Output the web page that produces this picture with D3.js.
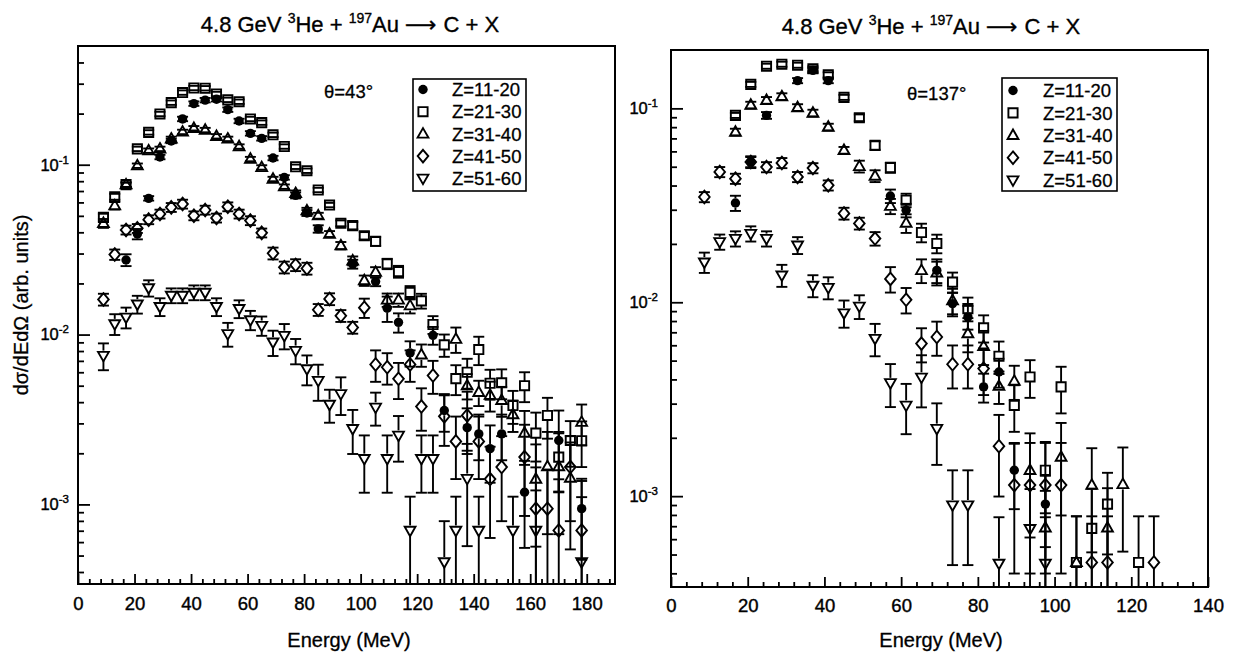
<!DOCTYPE html>
<html>
<head>
<meta charset="utf-8">
<script src="https://cdn.jsdelivr.net/npm/d3@7"></script>
<style>
  html, body { margin: 0; padding: 0; background: #fff; }
  svg text { font-family: "Liberation Sans", Arial, Helvetica, sans-serif; fill: #000; }
</style>
</head>
<body>
<svg id="chart" width="1234" height="653"></svg>
<script>
// ---------- data: 4.8 GeV 3He + 197Au -> C + X, dσ/dEdΩ (arb. units) ----------
const SERIES_LABELS = ["Z=11-20", "Z=21-30", "Z=31-40", "Z=41-50", "Z=51-60"];
const SERIES_SHAPES = ["circle", "square", "triangle", "diamond", "triangleDown"];

// θ = 43° : energies (MeV)
const LEFT_ENERGY = [9, 13, 17, 21, 25, 29, 33, 37, 41, 45, 49, 53, 57, 61, 65, 69, 73, 77, 81, 85, 89, 93,
  97.2, 101.3, 105.3, 109.4, 113.4, 117.5, 121.5, 125.6, 129.6, 133.7, 137.7, 141.8, 145.8, 149.9, 153.9,
  158, 162, 166.1, 170.1, 174.2, 178.2];

const LEFT_Z11_20 = [null, null, 0.0275, 0.0391, 0.0634, 0.111, 0.138, 0.186, 0.229, 0.240, 0.243, 0.211, 0.181,
  0.153, 0.143, 0.1095, 0.0842, 0.066, 0.052, 0.0419, null, null, 0.026, null, 0.0205, 0.0143, 0.0118, 0.0078,
  null, 0.0099, 0.00357, null, 0.00283, 0.0026, 0.00213, 0.0026, null, 0.00118, null, null, 0.00238, null, 0.000944];
const LEFT_Z11_20_ERR = [null, null, .08, .07, .03, .03, .03, .03, .03, .03, .03, .03, .03, .03, .03, .03, .03,
  .04, .04, .05, null, null, .06, null, .06, .17, .13, .17, null, .12, .25, null, .3, .3, .37, .3, null, .53,
  null, null, .5, null, .5];

const LEFT_Z21_30 = [0.049, 0.0648, 0.0763, 0.124, 0.155, 0.199, 0.232, 0.266, 0.283, 0.282, 0.261, 0.241, 0.235,
  0.186, 0.177, 0.150, 0.128, 0.0973, 0.0922, 0.071, 0.0579, 0.0452, 0.0438, 0.0382, 0.0354, 0.0261, 0.0235,
  0.0177, 0.0158, 0.01146, 0.0087, 0.0055, 0.006, 0.00816, 0.00517, 0.0052, 0.00382, 0.005, 0.00263, 0.00334,
  0.0019, 0.00238, 0.00237];
const LEFT_Z21_30_ERR = [.05, .04, .03, .03, .03, .03, .03, .03, .03, .03, .03, .03, .03, .03, .03, .03, .03, .03,
  .03, .03, .03, .04, .05, .05, .06, .07, .08, .09, .1, .12, .15, .2, .2, .19, .2, .2, .22, .2, .32, .27, .38,
  .3, .3];

const LEFT_Z31_40 = [0.0452, 0.0574, 0.0763, 0.0987, 0.121, 0.124, 0.142, 0.156, 0.164, 0.160, 0.147, 0.142,
  0.128, 0.108, 0.0964, 0.0824, 0.0743, 0.0678, 0.0536, 0.0501, 0.0391, 0.0334, 0.0272, 0.0208, 0.0233, 0.016,
  0.016, 0.0148, 0.0076, null, null, 0.0094, 0.005, 0.00457, 0.0044, 0.0041, 0.00338, 0.00263, 0.00141,
  0.00167, 0.00167, 0.00143, 0.00305];
const LEFT_Z31_40_ERR = [.06, .05, .03, .03, .03, .03, .03, .03, .03, .03, .03, .03, .03, .03, .03, .03, .03,
  .04, .04, .04, .04, .05, .06, .07, .07, .09, .09, .1, .15, null, null, .17, .17, .17, .2, .2, .21, .35, .6,
  .6, .6, .62, .27];

const LEFT_Z41_50 = [0.0161, 0.0296, 0.0413, 0.0422, 0.0475, 0.0513, 0.0561, 0.0587, 0.0501, 0.0541, 0.0486,
  0.0566, 0.0513, 0.0469, 0.0397, 0.0301, 0.0249, 0.0257, 0.0245, 0.014, 0.0162, 0.0129, 0.011, 0.0144,
  0.00667, 0.00642, 0.00549, 0.00667, 0.00377, 0.00574, 0.0033, 0.00235, 0.00334, 0.00235, 0.00141, 0.00166,
  null, 0.0019, 0.000944, 0.000944, 0.000703, 0.00166, 0.000703];
const LEFT_Z41_50_ERR = [.08, .07, .06, .06, .06, .06, .06, .06, .06, .06, .06, .06, .06, .06, .06, .08, .08,
  .08, .08, .08, .08, .08, .08, .13, .21, .21, .24, .21, .28, .22, .33, .4, .38, .4, .55, .52, null, .55, .75,
  .7, 1.0, .52, .57];

const LEFT_Z51_60 = [0.00752, 0.01156, 0.01264, 0.0151, 0.0188, 0.0146, 0.017, 0.017, 0.0177, 0.0177, 0.0146,
  0.0101, 0.0142, 0.0122, 0.0113, 0.00901, 0.00986, 0.00805, 0.00628, 0.00536, 0.00388, 0.00448, 0.00279,
  0.00186, 0.00373, 0.00186, 0.00255, 0.000703, 0.00186, 0.00186, 0.000458, 0.000703, 0.00142, 0.000703,
  null, null, 0.000703, null, 0.000703, null, null, null, 0.000458];
const LEFT_Z51_60_ERR = [.18, .14, .14, .12, .11, .12, .1, .1, .1, .1, .12, .16, .12, .13, .13, .17, .17, .17,
  .2, .24, .22, .25, .29, .37, .22, .37, .3, .58, .37, .37, .74, .58, .6, .58, null, null, .58, null, .72,
  null, null, null, 2.0];

// θ = 137° : energies (MeV)
const RIGHT_ENERGY = [8.7, 12.7, 16.8, 20.8, 24.9, 28.9, 33.0, 37.0, 41.0, 45.1, 49.1, 53.2, 57.2, 61.3, 65.3,
  69.3, 73.4, 77.4, 81.5, 85.5, 89.5, 93.6, 97.6, 101.7, 105.7, 109.7, 113.8, 117.8, 121.9, 125.9];

const RIGHT_Z11_20 = [null, null, 0.0325, 0.0529, 0.092, null, 0.139, 0.157, 0.139, null, null, null, 0.0353,
  0.0298, null, 0.0146, 0.00984, 0.0084, 0.00366, 0.00437, 0.00136, null, 0.00091, null, null, null, null,
  null, null, null];
const RIGHT_Z11_20_ERR = [null, null, .09, .07, .04, null, .03, .03, .03, null, null, null, .08, .08, null, .14,
  .14, .14, .17, .17, .37, null, .4, null, null, null, null, null, null, null];

const RIGHT_Z21_30 = [null, null, 0.092, 0.133, 0.165, 0.169, 0.167, 0.160, 0.149, 0.114, 0.0895, 0.0644, 0.0495,
  0.0336, 0.0229, 0.0201, 0.0127, 0.00927, 0.00738, 0.00527, 0.00294, 0.00412, 0.00136, 0.00366, 0.000455,
  0.000682, 0.00091, null, 0.000455, null];
const RIGHT_Z21_30_ERR = [null, null, .03, .03, .03, .03, .03, .03, .03, .03, .04, .05, .06, .08, .11, .11, .12,
  .14, .16, .19, .27, .22, .4, .27, .73, .6, .45, null, .73, null];

const RIGHT_Z31_40 = [null, null, 0.0755, 0.104, 0.11, 0.115, 0.101, 0.0946, 0.0801, 0.0608, 0.0502, 0.0448,
  0.0313, 0.0256, 0.0146, 0.0142, 0.0102, 0.0069, 0.00593, 0.00369, 0.00392, 0.00136, 0.000687, 0.00159,
  0.000455, 0.00114, 0.000687, 0.00115, null, null];
const RIGHT_Z31_40_ERR = [null, null, .04, .04, .04, .04, .04, .04, .04, .04, .07, .07, .09, .11, .14, .14, .15,
  .2, .2, .19, .2, .55, .55, .5, .73, .55, .6, .55, null, null];

const RIGHT_Z41_50 = [0.0349, 0.047, 0.0434, 0.0529, 0.0498, 0.0523, 0.0443, 0.0492, 0.0401, 0.0287, 0.0255,
  0.0213, 0.0132, 0.0103, 0.00612, 0.00662, 0.00479, 0.00479, 0.00455, 0.00181, 0.00114, 0.00114, 0.00114,
  0.00114, null, 0.000455, 0.000455, null, null, 0.000455];
const RIGHT_Z41_50_ERR = [.06, .06, .06, .06, .06, .06, .06, .06, .06, .07, .07, .08, .15, .15, .2, .2, .25, .25,
  .27, .45, .65, .65, .65, .65, null, .73, .73, null, null, .73];

const RIGHT_Z51_60 = [0.0161, 0.0205, 0.0213, 0.0226, 0.0213, 0.0138, 0.0197, 0.0122, 0.0119, 0.0088, 0.00953,
  0.0065, 0.00384, 0.00294, 0.0041, 0.00223, 0.0009, 0.0009, null, 0.00045, null, 0.00068, 0.00045, null,
  null, null, null, null, null, null];
const RIGHT_Z51_60_ERR = [.12, .09, .09, .09, .09, .13, .1, .13, .13, .16, .14, .19, .25, .29, .3, .35, .51, .51,
  null, .73, null, .6, .73, null, null, null, null, null, null, null];

// axis ticks
const LEFT_X_TICKS = [0, 20, 40, 60, 80, 100, 120, 140, 160, 180];
const RIGHT_X_TICKS = [0, 20, 40, 60, 80, 100, 120, 140];
const Y_DECADES = [1e-3, 1e-2, 1e-1];
const Y_DECADE_EXP = ["-3", "-2", "-1"];

// ---------- drawing ----------
const svg = d3.select("#chart");
const INK = "#000";

function markerPath(shape) {
  switch (shape) {
    case "square": return "M-4.6,-4.6H4.6V4.6H-4.6Z";
    case "triangle": return "M0,-5.8L5.4,3.7L-5.4,3.7Z";
    case "triangleDown": return "M0,5.8L5.4,-3.7L-5.4,-3.7Z";
    case "diamond": return "M0,-6.3L5.3,0L0,6.3L-5.3,0Z";
    default: return null;
  }
}
const MARKER_HALF = { circle: 4.7, square: 4.6, triangle: 5.0, triangleDown: 5.0, diamond: 6.3 };

function drawMarker(g, shape, cx, cy) {
  if (shape === "circle") {
    g.append("circle").attr("cx", cx).attr("cy", cy).attr("r", 4.7).attr("fill", INK);
  } else {
    g.append("path").attr("d", markerPath(shape))
      .attr("transform", `translate(${cx},${cy})`)
      .attr("fill", "none").attr("stroke", INK).attr("stroke-width", 1.9)
      .attr("stroke-linejoin", "miter");
  }
}

function drawPanel(p) {
  const x = d3.scaleLinear().domain(p.xDomain).range([p.left, p.right]);
  const y = d3.scaleLog().domain(p.yDomain).range([p.bottom, p.top]);
  const g = svg.append("g");

  // x axis: minor ticks every 4 MeV, major every 20 MeV, all pointing inward
  const xMinor = d3.range(4, p.xDomain[1] + 0.001, 4).filter(v => v % 20 !== 0);
  g.append("g").attr("transform", `translate(0,${p.bottom})`)
    .call(d3.axisBottom(x).tickValues(xMinor).tickSize(-5).tickSizeOuter(0).tickFormat(""))
    .call(s => s.select(".domain").remove());
  g.append("g").attr("transform", `translate(0,${p.bottom})`)
    .call(d3.axisBottom(x).tickValues(p.xTicks).tickSize(-10).tickSizeOuter(0)
      .tickPadding(p.xLabelPad).tickFormat(d3.format("d")))
    .call(s => s.select(".domain").remove())
    .call(s => s.selectAll("text").attr("font-size", 18.5)
      .attr("font-family", "Liberation Sans, Arial, sans-serif").attr("fill", INK)
      .attr("stroke", INK).attr("stroke-width", 0.4));

  // y axis: log ticks
  const yMinor = [];
  for (let e = -4; e <= 0; e++) {
    for (let m = 2; m <= 9; m++) {
      const v = m * Math.pow(10, e);
      if (v > p.yDomain[0] && v < p.yDomain[1]) yMinor.push(v);
    }
  }
  g.append("g").attr("transform", `translate(${p.left},0)`)
    .call(d3.axisLeft(y).tickValues(yMinor).tickSize(-6).tickSizeOuter(0).tickFormat(""))
    .call(s => s.select(".domain").remove());
  g.append("g").attr("transform", `translate(${p.left},0)`)
    .call(d3.axisLeft(y).tickValues(Y_DECADES).tickSize(-12).tickSizeOuter(0).tickFormat(""))
    .call(s => s.select(".domain").remove());
  g.selectAll(".tick line").attr("stroke", INK).attr("stroke-width", 1.8);

  Y_DECADES.forEach((v, i) => {
    const t = g.append("text").attr("x", p.left - p.yLabelGap).attr("y", y(v) + 5.8)
      .attr("text-anchor", "end").attr("font-size", 16.5)
      .attr("stroke", INK).attr("stroke-width", 0.4);
    t.append("tspan").text("10");
    t.append("tspan").attr("font-size", 11.5).attr("dy", -7).text(Y_DECADE_EXP[i]);
  });

  // frame
  g.append("rect").attr("x", p.left).attr("y", p.top)
    .attr("width", p.right - p.left).attr("height", p.bottom - p.top)
    .attr("fill", "none").attr("stroke", INK).attr("stroke-width", 2);

  // error bars and markers
  const dataG = g.append("g");
  const [yMin, yMax] = p.yDomain;
  p.series.forEach((s, si) => {
    const shape = SERIES_SHAPES[si];
    const half = MARKER_HALF[shape];
    s.values.forEach((v, i) => {
      if (v == null) return;
      const cx = x(p.energy[i]);
      const cy = y(v);
      const err = s.errors[i];
      if (err != null) {
        const hi = v * (1 + err);
        const lo = v * (1 - err);
        const yHi = hi < yMax ? y(hi) : p.top;
        const yLo = lo > yMin ? y(lo) : p.bottom;
        const bar = (y1, y2) => dataG.append("line").attr("x1", cx).attr("x2", cx)
          .attr("y1", y1).attr("y2", y2).attr("stroke", INK).attr("stroke-width", 1.9);
        if (cy - half - yHi > 0.5) bar(yHi, cy - half);
        if (yLo - (cy + half) > 0.5) bar(cy + half, yLo);
        const cap = yy => dataG.append("line").attr("x1", cx - 5.5).attr("x2", cx + 5.5)
          .attr("y1", yy).attr("y2", yy).attr("stroke", INK).attr("stroke-width", 1.9);
        if (hi < yMax) cap(yHi);
        if (lo > yMin) cap(yLo);
      }
      drawMarker(dataG, shape, cx, cy);
    });
  });

  // legend
  const L = p.legend;
  g.append("rect").attr("x", L.x).attr("y", L.y).attr("width", L.w).attr("height", L.h)
    .attr("fill", "#fff").attr("stroke", INK).attr("stroke-width", 1.6);
  SERIES_LABELS.forEach((lab, i) => {
    const ry = L.row0 + i * L.rowStep;
    drawMarker(g, SERIES_SHAPES[i], L.symX, ry);
    g.append("text").attr("x", L.textX).attr("y", ry + 6.6).attr("font-size", 18.5)
      .attr("stroke", INK).attr("stroke-width", 0.3).text(lab);
  });

  // angle label
  g.append("text").attr("x", p.angle.x).attr("y", p.angle.y).attr("font-size", 18.5)
    .attr("stroke", INK).attr("stroke-width", 0.3).text(p.angle.text);

  // reaction title
  const tt = g.append("text").attr("x", p.title.x).attr("y", p.title.y)
    .attr("text-anchor", "middle").attr("font-size", 22)
    .attr("stroke", INK).attr("stroke-width", 0.35);
  tt.append("tspan").text("4.8 GeV ");
  tt.append("tspan").attr("font-size", 14).attr("dy", -9).text("3");
  tt.append("tspan").attr("dy", 9).text("He + ");
  tt.append("tspan").attr("font-size", 14).attr("dy", -9).text("197");
  tt.append("tspan").attr("dy", 9).text("Au ");
  tt.append("tspan").attr("font-family", "DejaVu Sans, sans-serif").text(" \u27F6 ");
  tt.append("tspan").text(" C + X");

  // x axis title
  g.append("text").attr("x", p.xTitle.x).attr("y", p.xTitle.y).attr("text-anchor", "middle")
    .attr("font-size", 20).attr("stroke", INK).attr("stroke-width", 0.3).text("Energy (MeV)");
}

drawPanel({
  energy: LEFT_ENERGY,
  series: [
    { values: LEFT_Z11_20, errors: LEFT_Z11_20_ERR },
    { values: LEFT_Z21_30, errors: LEFT_Z21_30_ERR },
    { values: LEFT_Z31_40, errors: LEFT_Z31_40_ERR },
    { values: LEFT_Z41_50, errors: LEFT_Z41_50_ERR },
    { values: LEFT_Z51_60, errors: LEFT_Z51_60_ERR }
  ],
  xDomain: [0, 190], yDomain: [3.4e-4, 0.5],
  left: 78, right: 615, top: 46, bottom: 584,
  xTicks: LEFT_X_TICKS, xLabelPad: 13, yLabelGap: 9,
  legend: { x: 413, y: 79, w: 113, h: 112, symX: 423, textX: 452, row0: 89.5, rowStep: 22.2 },
  angle: { x: 324, y: 98, text: "\u03B8=43\u00B0" },
  title: { x: 350, y: 32 },
  xTitle: { x: 349, y: 647 }
});

drawPanel({
  energy: RIGHT_ENERGY,
  series: [
    { values: RIGHT_Z11_20, errors: RIGHT_Z11_20_ERR },
    { values: RIGHT_Z21_30, errors: RIGHT_Z21_30_ERR },
    { values: RIGHT_Z31_40, errors: RIGHT_Z31_40_ERR },
    { values: RIGHT_Z41_50, errors: RIGHT_Z41_50_ERR },
    { values: RIGHT_Z51_60, errors: RIGHT_Z51_60_ERR }
  ],
  xDomain: [0, 140], yDomain: [3.4e-4, 0.2],
  left: 671, right: 1208, top: 50, bottom: 587,
  xTicks: RIGHT_X_TICKS, xLabelPad: 12, yLabelGap: 13,
  legend: { x: 1002, y: 78, w: 115, h: 113, symX: 1013, textX: 1043, row0: 90.5, rowStep: 22.4 },
  angle: { x: 907, y: 100, text: "\u03B8=137\u00B0" },
  title: { x: 931, y: 34 },
  xTitle: { x: 941, y: 647 }
});

// shared y axis title
svg.append("text").attr("transform", "translate(28,305) rotate(-90)")
  .attr("text-anchor", "middle").attr("font-size", 20)
  .attr("stroke", INK).attr("stroke-width", 0.3)
  .text("d\u03C3/dEd\u03A9 (arb. units)");
</script>
</body>
</html>
